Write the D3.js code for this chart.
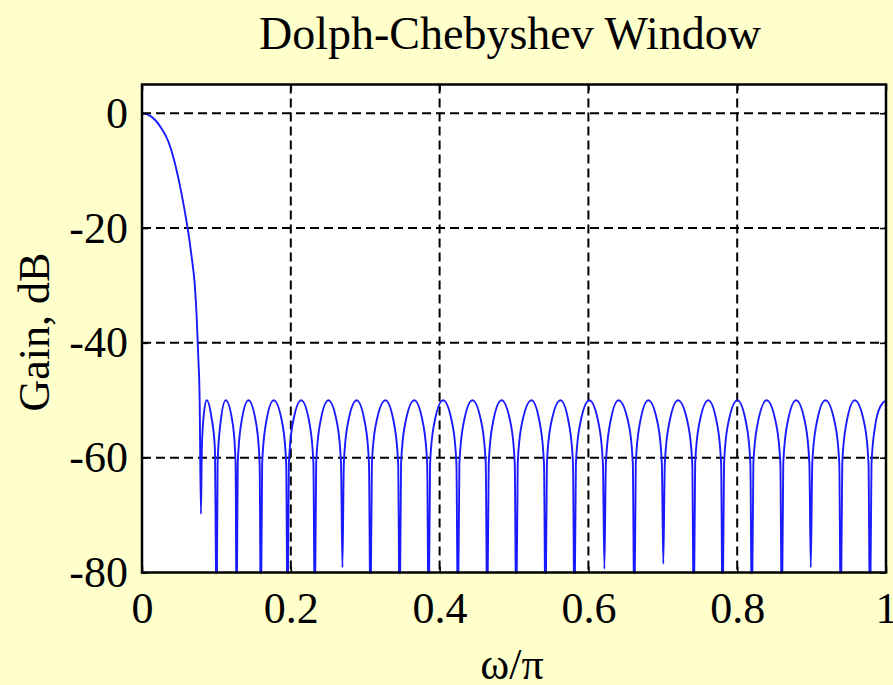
<!DOCTYPE html>
<html><head><meta charset="utf-8">
<script src="https://cdn.jsdelivr.net/npm/d3@7"></script>
<style>html,body{margin:0;padding:0;background:#ffffcc;} svg{display:block}</style>
</head><body><svg id="c" width="893" height="685"></svg>
<script>
const title = "Dolph-Chebyshev Window";
const xLabel = "ω/π";
const yLabel = "Gain, dB";
const xTicks = [0, 0.2, 0.4, 0.6, 0.8, 1];
const xTickLabels = ["0", "0.2", "0.4", "0.6", "0.8", "1"];
const yTicks = [0, -20, -40, -60, -80];
const yTickLabels = ["0", "-20", "-40", "-60", "-80"];

// frequency (omega/pi) samples
const omega = [
  0, 0.008, 0.017, 0.026, 0.035, 0.043, 0.050, 0.056, 0.062, 0.067, 0.071, 0.0735, 0.0755, 0.0775, 0.0792,
  0.0805, 0.0835, 0.0869, 0.0934, 0.0979, 0.1003,
  0.1016, 0.1050, 0.1125, 0.1224, 0.1258, 0.1271,
  0.1287, 0.1328, 0.1430, 0.1540, 0.1581, 0.1597,
  0.1615, 0.1660, 0.1770, 0.1893, 0.1938, 0.1956,
  0.1974, 0.2020, 0.2140, 0.2258, 0.2304, 0.2322,
  0.2341, 0.2387, 0.2505, 0.2629, 0.2675, 0.2694,
  0.2713, 0.2760, 0.2885, 0.3004, 0.3051, 0.3070,
  0.3090, 0.3139, 0.3272, 0.3394, 0.3443, 0.3463,
  0.3482, 0.3531, 0.3660, 0.3784, 0.3833, 0.3852,
  0.3872, 0.3921, 0.4047, 0.4177, 0.4226, 0.4246,
  0.4266, 0.4315, 0.4441, 0.4571, 0.4620, 0.4640,
  0.4660, 0.4708, 0.4832, 0.4962, 0.5010, 0.5030,
  0.5050, 0.5099, 0.5235, 0.5354, 0.5403, 0.5423,
  0.5442, 0.5491, 0.5625, 0.5744, 0.5793, 0.5812,
  0.5832, 0.5883, 0.6013, 0.6144, 0.6195, 0.6215,
  0.6235, 0.6285, 0.6405, 0.6547, 0.6597, 0.6617,
  0.6637, 0.6685, 0.6805, 0.6939, 0.6987, 0.7007,
  0.7027, 0.7079, 0.7205, 0.7344, 0.7396, 0.7416,
  0.7435, 0.7484, 0.7612, 0.7735, 0.7784, 0.7803,
  0.7823, 0.7872, 0.8002, 0.8128, 0.8177, 0.8197,
  0.8217, 0.8268, 0.8396, 0.8529, 0.8580, 0.8600,
  0.8619, 0.8668, 0.8792, 0.8921, 0.8970, 0.8989,
  0.9009, 0.9060, 0.9186, 0.9321, 0.9372, 0.9392,
  0.9412, 0.9461, 0.9580, 0.9716, 0.9765, 0.9785,
  0.9805, 0.9854, 0.9928, 1.0
];
// gain in dB at those samples
const gainDb = [
  0, -0.25, -1.1, -2.6, -4.8, -8.1, -12.0, -16.0, -20.6, -25.3, -30.0, -35.5, -42, -50, -69.8,
  -58, -52, -50, -53, -58.2, -90,
  -61, -54.5, -50, -54.5, -61, -90,
  -61, -54.5, -50, -54.5, -61, -90,
  -61, -54.5, -50, -54.5, -61, -90,
  -61, -54.5, -50, -54.5, -61, -90,
  -61, -54.5, -50, -54.5, -61, -79.1,
  -61, -54.5, -50, -54.5, -61, -90,
  -61, -54.5, -50, -54.5, -61, -90,
  -61, -54.5, -50, -54.5, -61, -90,
  -61, -54.5, -50, -54.5, -61, -90,
  -61, -54.5, -50, -54.5, -61, -90,
  -61, -54.5, -50, -54.5, -61, -90,
  -61, -54.5, -50, -54.5, -61, -90,
  -61, -54.5, -50, -54.5, -61, -90,
  -61, -54.5, -50, -54.5, -61, -79.4,
  -61, -54.5, -50, -54.5, -61, -90,
  -61, -54.5, -50, -54.5, -61, -78.5,
  -61, -54.5, -50, -54.5, -61, -90,
  -61, -54.5, -50, -54.5, -61, -90,
  -61, -54.5, -50, -54.5, -61, -90,
  -61, -54.5, -50, -54.5, -61, -90,
  -61, -54.5, -50, -54.5, -61, -79.1,
  -61, -54.5, -50, -54.5, -61, -90,
  -61, -54.5, -50, -54.5, -61, -90,
  -61, -54.5, -51, -50
];

const W = 893, H = 685;
const L = 142, R = 886, T = 84.5, B = 572.5;
const FONT = "'Liberation Serif', 'Times New Roman', serif";

const x = d3.scaleLinear().domain([0, 1]).range([L, R]);
const y = d3.scaleLinear().domain([-80, 5]).range([B, T]);

const svg = d3.select("#c");
svg.append("rect").attr("width", W).attr("height", H).attr("fill", "#ffffcc");
svg.append("rect").attr("x", L).attr("y", T).attr("width", R - L).attr("height", B - T).attr("fill", "#ffffff");

// grid
const grid = svg.append("g").attr("stroke", "#000").attr("stroke-width", 2).attr("stroke-dasharray", "9,5");
grid.selectAll("line.gx").data(xTicks.filter(v => v > 0 && v < 1)).join("line")
  .attr("class", "gx").attr("x1", d => x(d)).attr("x2", d => x(d)).attr("y1", T).attr("y2", B);
grid.selectAll("line.gy").data(yTicks.filter(v => v > -80)).join("line")
  .attr("class", "gy").attr("y1", d => y(d)).attr("y2", d => y(d)).attr("x1", L).attr("x2", R);

// curve
svg.append("clipPath").attr("id", "clip").append("rect")
  .attr("x", L).attr("y", T).attr("width", R - L).attr("height", B - T + 1);
const pts = d3.zip(omega, gainDb);
const line = d3.line().x(d => x(d[0])).y(d => y(d[1])).curve(d3.curveMonotoneX);
svg.append("path").datum(pts).attr("clip-path", "url(#clip)")
  .attr("d", line).attr("fill", "none").attr("stroke", "#1a1aff")
  .attr("stroke-width", 1.9).attr("stroke-linejoin", "round");

// axes
function styleAxis(g) {
  g.select(".domain").remove();
  g.selectAll(".tick line").attr("stroke", "#000").attr("stroke-width", 1.6);
  g.selectAll("text").attr("font-family", FONT).attr("font-size", 44).attr("fill", "#000");
}
svg.append("g").attr("transform", `translate(${L},0)`)
  .call(d3.axisLeft(y).tickValues(yTicks).tickFormat((d, i) => yTickLabels[i])
    .tickSizeInner(-6).tickSizeOuter(0).tickPadding(14))
  .call(styleAxis);
svg.append("g").attr("transform", `translate(0,${B})`)
  .call(d3.axisBottom(x).tickValues(xTicks).tickFormat((d, i) => xTickLabels[i])
    .tickSizeInner(-6).tickSizeOuter(0).tickPadding(19.5))
  .call(styleAxis);
svg.append("g").attr("transform", `translate(${R},0)`)
  .call(d3.axisRight(y).tickValues(yTicks).tickFormat("").tickSizeInner(-6).tickSizeOuter(0))
  .call(styleAxis);
svg.append("g").attr("transform", `translate(0,${T})`)
  .call(d3.axisTop(x).tickValues(xTicks).tickFormat("").tickSizeInner(-6).tickSizeOuter(0))
  .call(styleAxis);

// frame
svg.append("rect").attr("x", L).attr("y", T).attr("width", R - L).attr("height", B - T)
  .attr("fill", "none").attr("stroke", "#000").attr("stroke-width", 2.5);

// texts
svg.append("text").attr("x", 510).attr("y", 49).attr("text-anchor", "middle")
  .attr("font-family", FONT).attr("font-size", 46).text(title);
svg.append("text").attr("x", 512).attr("y", 679).attr("text-anchor", "middle")
  .attr("font-family", FONT).attr("font-size", 44).text(xLabel);
svg.append("text").attr("transform", "translate(49,332) rotate(-90)").attr("text-anchor", "middle")
  .attr("font-family", FONT).attr("font-size", 44).text(yLabel);
</script>
</body></html>
